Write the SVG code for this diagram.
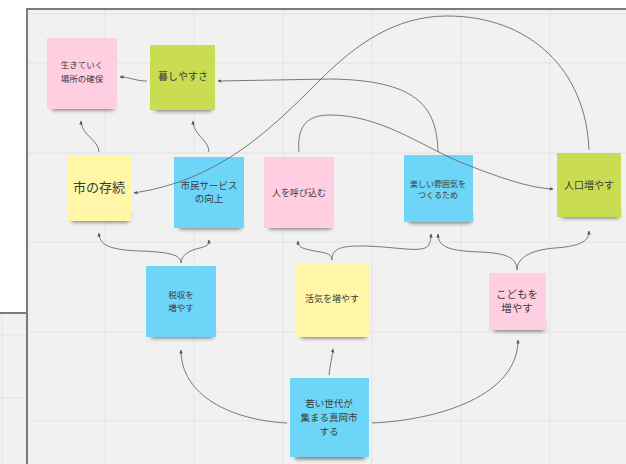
<svg xmlns="http://www.w3.org/2000/svg" width="626" height="464" viewBox="0 0 626 464">
<defs>
<style>
.grid{stroke:#e3e3e3;stroke-width:1;fill:none}
.frame{fill:#f1f1f1;stroke:#7b7b7b;stroke-width:2}
.pink{fill:#ffcfe1}
.green{fill:#c9dc52}
.yellow{fill:#fff6a8}
.blue{fill:#6dd5f7}
.sh{fill:#000;opacity:.55;filter:url(#blur)}
text{font-family:"Noto Sans CJK JP","Noto Sans",sans-serif;fill:#3a3a3a;text-anchor:middle}
.c{fill:none;stroke:#6a6a6a;stroke-width:0.9;marker-end:url(#ah)}
</style>
<filter id="blur" x="-20%" y="-50%" width="140%" height="200%"><feGaussianBlur stdDeviation="2"/></filter>
<marker id="ah" viewBox="0 0 8 8" refX="7" refY="4" markerWidth="4" markerHeight="4" orient="auto" markerUnits="userSpaceOnUse"><path d="M0,0.5 L8,4 L0,7.5 z" fill="#555"/></marker>
</defs>
<rect width="626" height="464" fill="#ffffff"/>
<rect class="frame" x="-10" y="313" width="60" height="200"/>
<path class="grid" d="M2,314 V464 M0,335 H26 M0,398 H26"/>
<rect class="frame" x="27" y="9" width="620" height="480"/>
<path class="grid" d="M28,14 H626 M105,10 V464 M194,10 V464 M283,10 V464 M372,10 V464 M461,10 V464 M550,10 V464 M28,63 H626 M28,153 H626 M28,242 H626 M28,332 H626 M28,421 H626"/>

<g id="n-ikiteiku">
<rect class="sh" x="52" y="100" width="62" height="10"/>
<rect class="pink" x="47" y="38" width="70" height="71"/>
<text x="82" y="68" font-size="8.5">生きていく</text>
<text x="82" y="82" font-size="8.5">場所の確保</text>
</g>
<g id="n-kurashi">
<rect class="sh" x="155" y="101" width="57" height="10"/>
<rect class="green" x="150" y="45" width="65" height="65"/>
<text x="183" y="80" font-size="10">暮しやすさ</text>
</g>
<g id="n-sonzoku">
<rect class="sh" x="72" y="212" width="57" height="10"/>
<rect class="yellow" x="67" y="156" width="64" height="65"/>
<text x="99" y="192" font-size="13">市の存続</text>
</g>
<g id="n-shimin">
<rect class="sh" x="179" y="219" width="62" height="10"/>
<rect class="blue" x="174" y="157" width="70" height="71"/>
<text x="209" y="189" font-size="9.5">市民サービス</text>
<text x="209" y="202" font-size="9.5">の向上</text>
</g>
<g id="n-yobikomu">
<rect class="sh" x="269" y="219" width="62" height="10"/>
<rect class="pink" x="264" y="157" width="70" height="71"/>
<text x="299" y="196" font-size="9">人を呼び込む</text>
</g>
<g id="n-tanoshii">
<rect class="sh" x="409" y="213" width="62" height="10"/>
<rect class="blue" x="404" y="155" width="69" height="67"/>
<text x="438" y="187" font-size="8">楽しい雰囲気を</text>
<text x="438" y="198" font-size="8">つくるため</text>
</g>
<g id="n-jinko">
<rect class="sh" x="562" y="208" width="57" height="10"/>
<rect class="green" x="557" y="153" width="64" height="64"/>
<text x="589" y="189" font-size="10">人口増やす</text>
</g>
<g id="n-zeishu">
<rect class="sh" x="151" y="328" width="62" height="10"/>
<rect class="blue" x="146" y="266" width="70" height="71"/>
<text x="181" y="298" font-size="8.5">税収を</text>
<text x="181" y="311" font-size="8.5">増やす</text>
</g>
<g id="n-kakki">
<rect class="sh" x="301" y="328" width="65" height="10"/>
<rect class="yellow" x="296" y="264" width="73" height="73"/>
<text x="332" y="302" font-size="9">活気を増やす</text>
</g>
<g id="n-kodomo">
<rect class="sh" x="494" y="321" width="50" height="10"/>
<rect class="pink" x="489" y="273" width="57" height="57"/>
<text x="517" y="298" font-size="10.5">こどもを</text>
<text x="517" y="312" font-size="10.5">増やす</text>
</g>
<g id="n-wakai">
<rect class="sh" x="295" y="449" width="70" height="10"/>
<rect class="blue" x="290" y="378" width="79" height="79"/>
<text x="329" y="407" font-size="9.5">若い世代が</text>
<text x="329" y="421" font-size="9.5">集まる真岡市</text>
<text x="329" y="435" font-size="9.5">する</text>
</g>

<g id="connectors">
<path class="c" d="M147,81 C135,81 130,77 120,77"/>
<path class="c" d="M99,152 C99,140 81,135 81,121"/>
<path class="c" d="M209,152 C209,140 193,135 193,121"/>
<path class="c" d="M438,152 C437,105 415,80 330,79 L218,81"/>
<path class="c" d="M589,150 C586,70 530,16 447,16 C395,16 355,45 320,80 C270,130 220,180 134,193"/>
<path class="c" d="M299,152 C297,128 305,115 330,115 C380,115 420,145 460,162 C500,178 530,188 553,189"/>
<path class="c" d="M181,263 C181,255 170,252 140,251 C110,250 99,245 99,233"/>
<path class="c" d="M181,263 C181,255 190,250 200,248 C207,246 209,245 209,240"/>
<path class="c" d="M332,260 C332,252 322,253 310,250 C300,248 298,246 298,241"/>
<path class="c" d="M332,260 C332,250 338,246 360,246 C390,246 415,252 425,248 C430,246 431,240 431,234"/>
<path class="c" d="M517,270 C517,258 507,253 480,252 C445,251 438,245 438,234"/>
<path class="c" d="M517,270 C517,258 530,250 555,248 C583,246 589,240 589,231"/>
<path class="c" d="M287,423 C230,420 181,395 181,350"/>
<path class="c" d="M329,375 C330,365 332,358 333,349"/>
<path class="c" d="M372,423 C440,420 518,395 518,340"/>
</g>
</svg>
